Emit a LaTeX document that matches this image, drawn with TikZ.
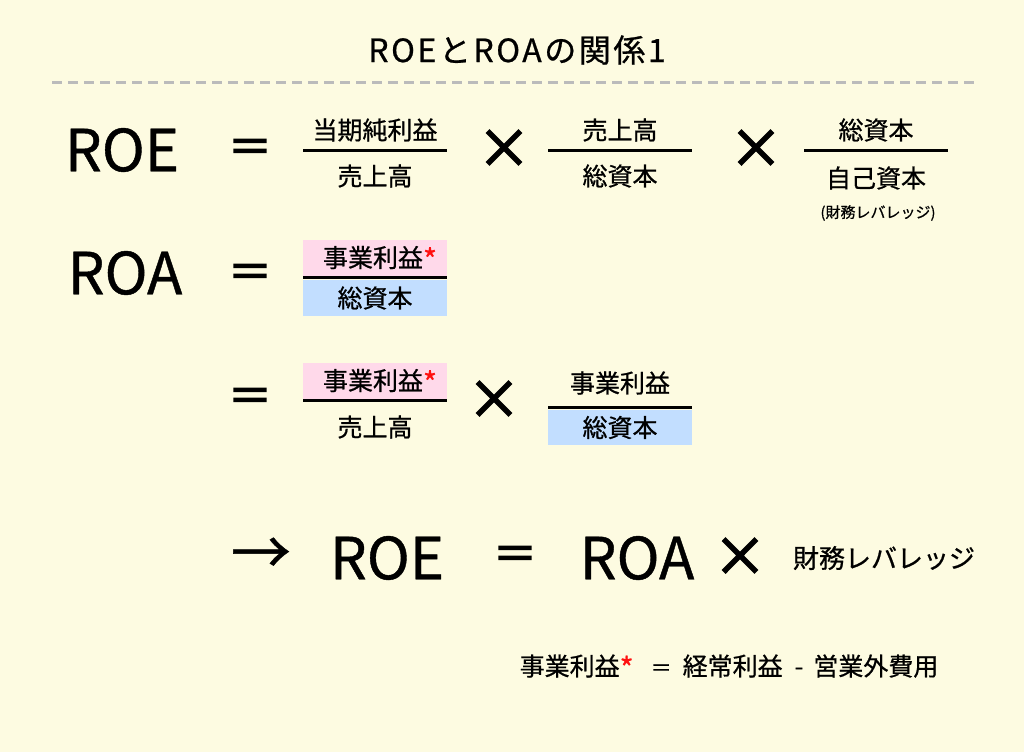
\documentclass[tikz,border=0pt]{standalone}
\usepackage{fontspec}
\setmainfont{Noto Sans CJK JP}[FakeBold=0.7]
\newfontfamily\heavyfont{Noto Sans CJK JP}[FakeBold=3.5]
\newfontfamily\titlefont{Noto Sans CJK JP}[FakeBold=0.7,LetterSpace=8]
\definecolor{bgc}{HTML}{FDFBE1}
\definecolor{pinkc}{HTML}{FFD9EA}
\definecolor{bluec}{HTML}{C2DEFF}
\definecolor{dashc}{HTML}{BBBBBB}
\definecolor{redc}{HTML}{FF1010}
\newcommand{\redast}{{\fontsize{30}{30}\selectfont\raisebox{-4pt}{\textcolor{redc}{*}}}}
\begin{document}
\begin{tikzpicture}[x=1pt,y=-1pt,
  every node/.style={inner sep=0pt,outer sep=0pt,anchor=center},
  big/.style={font=\fontsize{58}{60}\selectfont},
  eqs/.style={font=\heavyfont\fontsize{44}{48}\selectfont},
  tms/.style={font=\heavyfont\fontsize{53}{56}\selectfont},
  jp/.style={font=\fontsize{25}{29}\selectfont},
  small/.style={font=\fontsize{15}{18}\selectfont},
  fracline/.style={line width=3pt},
  pinkbox/.style={jp,fill=pinkc,minimum width=144pt,minimum height=37pt},
  bluebox/.style={jp,fill=bluec,minimum width=144pt,minimum height=36pt}]
\fill[bgc] (0,0) rectangle (1024,752);
\useasboundingbox (0,0) rectangle (1024,752);
% title
\node[font=\titlefont\fontsize{32}{36}\selectfont] (title) at (517,50) {ROEとROAの関係1};
\coordinate (dl) at (52,82);
\coordinate (dr) at (976,82);
\draw[dashc,line width=3pt,dash pattern=on 10pt off 6pt] (dl) -- (dr);
% row 1
\node[big] (roe1) at (122,150) {ROE};
\node[eqs] (eq1) at (250,151) {＝};
\node[jp] (n1) at (375,130) {当期純利益};
\coordinate (l1a) at (303,150); \coordinate (l1b) at (447,150);
\draw[fracline] (l1a) -- (l1b);
\node[jp] (d1) at (375,176) {売上高};
\node[tms] (x1) at (504,149) {×};
\node[jp] (n2) at (620,130) {売上高};
\coordinate (l2a) at (548,150); \coordinate (l2b) at (692,150);
\draw[fracline] (l2a) -- (l2b);
\node[jp] (d2) at (620,176) {総資本};
\node[tms] (x2) at (756,149) {×};
\node[jp] (n3) at (876,130) {総資本};
\coordinate (l3a) at (804,150); \coordinate (l3b) at (948,150);
\draw[fracline] (l3a) -- (l3b);
\node[jp] (d3) at (876,178) {自己資本};
\node[small] (note) at (878,213) {(財務レバレッジ)};
% row 2
\node[big] (roa1) at (125,273) {ROA};
\node[eqs] (eq2) at (250,276) {＝};
\node[pinkbox] (p1) at (375,258.5) {\hspace{10pt}事業利益\redast};
\node[bluebox] (b1) at (375,298) {総資本};
\draw[fracline] (p1.south west) -- (p1.south east);
% row 3
\node[eqs] (eq3) at (250,400) {＝};
\node[pinkbox] (p2) at (375,381.5) {\hspace{10pt}事業利益\redast};
\draw[fracline] (p2.south west) -- (p2.south east);
\node[jp] (d4) at (375,427) {売上高};
\node[tms] (x3) at (494,400) {×};
\node[jp] (n5) at (620,383) {事業利益};
\coordinate (l5a) at (548,407); \coordinate (l5b) at (692,407);
\draw[fracline] (l5a) -- (l5b);
\node[bluebox,minimum height=35pt] (b2) at (620,427.5) {総資本};
% row 4
\node[font=\fontsize{60}{62}\selectfont] (arr) at (261,556) {→};
\node[big] (roe2) at (387,558) {ROE};
\node[eqs] (eq4) at (515,558) {＝};
\node[big] (roa2) at (637,558) {ROA};
\node[tms] (x4) at (740,557) {×};
\node[jp,font=\fontsize{26}{30}\selectfont] (lev) at (884,558) {財務レバレッジ};
% footnote
\node[jp] (foot) at (729,667) {事業利益\redast\hspace{17pt}{\fontsize{21}{25}\selectfont ＝}\hspace{11pt}経常利益\hspace{12pt}-\hspace{10pt}営業外費用};
\end{tikzpicture}
\end{document}
